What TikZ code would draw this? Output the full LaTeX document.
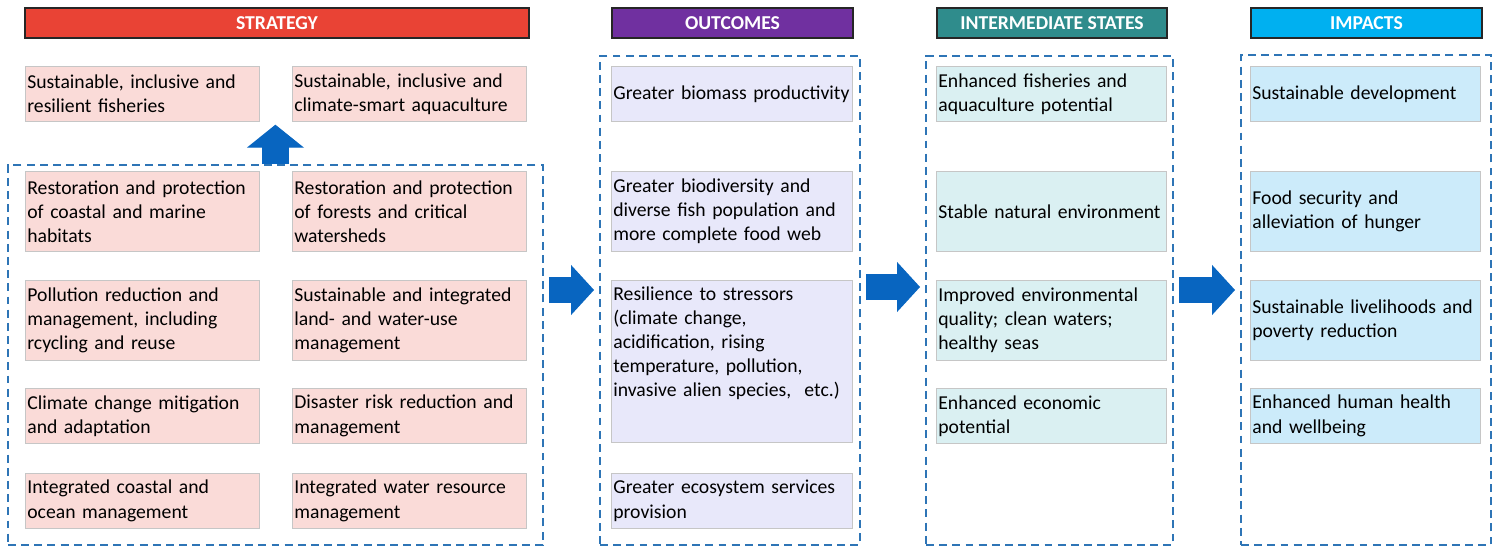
\documentclass[tikz,border=0pt]{standalone}
\usepackage{fontspec}
\setmainfont{Carlito}
\usetikzlibrary{arrows.meta}
\definecolor{stratred}{HTML}{E94335}
\definecolor{outpurple}{HTML}{7030A0}
\definecolor{interteal}{HTML}{2F8C8C}
\definecolor{impblue}{HTML}{00B0F0}
\definecolor{sfill}{HTML}{FADBD8}
\definecolor{ofill}{HTML}{E8E8FA}
\definecolor{ifill}{HTML}{DAF0F2}
\definecolor{pfill}{HTML}{CCEBFA}
\definecolor{dashblue}{HTML}{2E75B6}
\definecolor{arrowblue}{HTML}{0865C0}
\begin{document}
\begin{tikzpicture}[
    x=0.02cm, y=-0.02cm,
    header/.style={rectangle, draw=black!85, line width=1.2pt, anchor=north west, minimum height=0.6cm, inner sep=0pt, text=white, font=\fontsize{11.2}{13.7}\selectfont\bfseries},
    cell/.style={rectangle, draw=gray!45, anchor=north west, align=left, inner xsep=0.04cm, inner ysep=1pt, font=\fontsize{11.2}{13.7}\selectfont},
    sbox/.style={cell, fill=sfill, text width=4.60cm},
    obox/.style={cell, fill=ofill, text width=4.74cm},
    ibox/.style={cell, fill=ifill, text width=4.52cm},
    pbox/.style={cell, fill=pfill, text width=4.52cm},
    short/.style={minimum height=1.1cm},
    tall/.style={minimum height=1.6cm},
    group/.style={rectangle, draw=dashblue, line width=1.1pt, dash pattern=on 4.5pt off 3pt, anchor=north west, inner sep=0pt},
    bigarrow/.style={draw=arrowblue, line width=0.54cm, -{Triangle[length=0.46cm, width=#1, line width=0.6pt]}},
    bigarrow/.default=1.0cm
]
    \useasboundingbox (0,0) rectangle (1500,547);

    % Headers
    \node[header, fill=stratred, minimum width=10.08cm] (hstrat) at (24,7) {STRATEGY};
    \node[header, fill=outpurple, minimum width=4.82cm] (hout) at (611,7) {OUTCOMES};
    \node[header, fill=interteal, minimum width=4.6cm] (hint) at (936,7) {INTERMEDIATE STATES};
    \node[header, fill=impblue, minimum width=4.62cm] (himp) at (1250,7) {IMPACTS};

    % Dashed groups
    \node[group, minimum width=10.7cm, minimum height=7.6cm] (sgrp) at (7,164) {};
    \node[group, minimum width=5.2cm, minimum height=9.78cm] (ogrp) at (599,55) {};
    \node[group, minimum width=4.94cm, minimum height=9.78cm] (igrp) at (925,55) {};
    \node[group, minimum width=5.0cm, minimum height=9.8cm] (pgrp) at (1240,54) {};

    % Strategy
    \node[sbox, short] (s1) at (25,66) {Sustainable, inclusive and\\resilient fisheries};
    \node[sbox, short] (s2) at (292,66) {Sustainable, inclusive and\\climate-smart aquaculture};
    \node[sbox, tall] (s3) at (25,171) {Restoration and protection\\of coastal and marine\\habitats};
    \node[sbox, tall] (s4) at (292,171) {Restoration and protection\\of forests and critical\\watersheds};
    \node[sbox, tall] (s5) at (25,280) {Pollution reduction and\\management, including\\rcycling and reuse};
    \node[sbox, tall] (s6) at (292,280) {Sustainable and integrated\\land- and water-use\\management};
    \node[sbox, short] (s7) at (25,388) {Climate change mitigation\\and adaptation};
    \node[sbox, short] (s8) at (292,388) {Disaster risk reduction and\\management};
    \node[sbox, short] (s9) at (25,473) {Integrated coastal and\\ocean management};
    \node[sbox, short] (s10) at (292,473) {Integrated water resource\\management};

    % Outcomes
    \node[obox, short] (o1) at (611,66) {Greater biomass productivity};
    \node[obox, tall] (o2) at (611,171) {Greater biodiversity and\\diverse fish population and\\more complete food web};
    \node[obox, inner ysep=3.7pt, text depth=77pt] (o3) at (611,280) {Resilience to stressors\\(climate change,\\acidification, rising\\temperature, pollution,\\invasive alien species,~~etc.)};
    \node[obox, short] (o4) at (611,473) {Greater ecosystem services\\provision};

    % Intermediate states
    \node[ibox, short] (i1) at (936,66) {Enhanced fisheries and\\aquaculture potential};
    \node[ibox, tall] (i2) at (936,171) {Stable natural environment};
    \node[ibox, tall] (i3) at (936,280) {Improved environmental\\quality; clean waters;\\healthy seas};
    \node[ibox, short] (i4) at (936,388) {Enhanced economic\\potential};

    % Impacts
    \node[pbox, short] (p1) at (1250,66) {Sustainable development};
    \node[pbox, tall] (p2) at (1250,171) {Food security and\\alleviation of hunger};
    \node[pbox, tall] (p3) at (1250,280) {Sustainable livelihoods and\\poverty reduction};
    \node[pbox, short] (p4) at (1250,388) {Enhanced human health\\and wellbeing};

    % Block arrows
    \draw[bigarrow=1.14cm, shorten >=0.06cm] (sgrp.north) -- (sgrp.north |- s1.south);
    \draw[bigarrow, shorten <=0.1cm, shorten >=0.1cm] (sgrp.east |- 0,290) -- (ogrp.west |- 0,290);
    \draw[bigarrow, shorten <=0.1cm, shorten >=0.1cm] (ogrp.east |- 0,287) -- (igrp.west |- 0,287);
    \draw[bigarrow, shorten <=0.1cm, shorten >=0.1cm] (igrp.east |- 0,290) -- (pgrp.west |- 0,290);
\end{tikzpicture}
\end{document}
